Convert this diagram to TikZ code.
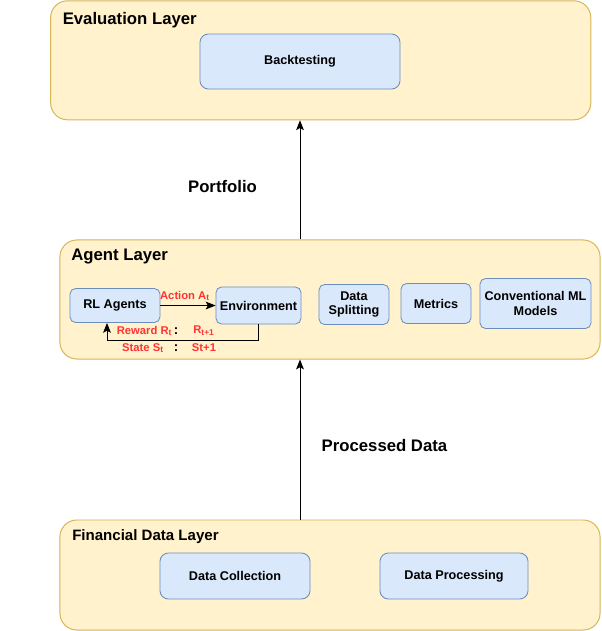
\documentclass[tikz,border=0pt]{standalone}
\usepackage{fontspec}
\setmainfont{Liberation Sans}
\usetikzlibrary{arrows.meta,positioning}
\definecolor{LayerFill}{HTML}{FFF2CC}
\definecolor{LayerDraw}{HTML}{D6B656}
\definecolor{BoxFill}{HTML}{DAE8FC}
\definecolor{BoxDraw}{HTML}{6C8EBF}
\definecolor{LabelRed}{HTML}{FF3333}

\begin{document}
\begin{tikzpicture}[x=0.025cm, y=-0.025cm, every node/.style={font=\bfseries},
    layer/.style={draw=LayerDraw, fill=LayerFill, line width=0.7pt, rounded corners=12pt, minimum width=13.5cm, inner sep=0},
    box/.style={draw=BoxDraw, fill=BoxFill, line width=0.6pt, rounded corners=4pt, align=center, inner sep=0, font=\bfseries\fontsize{9}{10.5}\selectfont},
    title/.style={anchor=west, inner sep=0, font=\bfseries\fontsize{11.9}{14}\selectfont},
    flow/.style={line width=0.7pt, -{Stealth[length=7pt, width=5.5pt, inset=1.5pt]}},
    redlbl/.style={text=LabelRed, inner sep=0, font=\bfseries\fontsize{8}{9.5}\selectfont}]
        \useasboundingbox (0,0) rectangle (601,631);

        % layers
        \node[layer, minimum height=2.975cm] (evalLayer) at (320.7,60.3) {};
        \node[layer, minimum height=2.975cm] (agentLayer) at (330,299.5) {};
        \node[layer, minimum height=2.75cm] (dataLayer) at (330,575) {};

        \node[title] (evalTitle) at (62.5,20) {Evaluation Layer};
        \node[title] (agentTitle) at (71,257) {Agent Layer};
        \node[title, font=\bfseries\fontsize{10.7}{13}\selectfont] (dataTitle) at (72,537) {Financial Data Layer};

        % boxes
        \node[box, minimum width=5cm, minimum height=1.375cm, rounded corners=6pt] (backtest) at (300,61.5) {Backtesting};
        \node[box, minimum width=2.25cm, minimum height=0.85cm] (rlAgents) at (115,305.5) {RL Agents};
        \node[box, minimum width=2.125cm, minimum height=0.925cm] (env) at (258.5,305.5) {Environment};
        \node[box, minimum width=1.75cm, minimum height=1cm] (split) at (354,304.5) {Data\\Splitting};
        \node[box, minimum width=1.75cm, minimum height=1cm] (metrics) at (436,303.5) {Metrics};
        \node[box, minimum width=2.775cm, minimum height=1.25cm] (convML) at (535.5,303.5) {Conventional ML\\Models};
        \node[box, minimum width=3.75cm, minimum height=1.15cm, rounded corners=6pt] (collect) at (235,576) {Data Collection};
        \node[box, minimum width=3.7cm, minimum height=1.15cm, rounded corners=6pt] (process) at (454,576) {Data Processing};

        % flows between layers
        \draw[flow] (agentLayer.north -| backtest.south) -- (evalLayer.south -| backtest.south);
        \draw[flow] (dataLayer.north -| backtest.south) -- (agentLayer.south -| backtest.south);
        \node[font=\bfseries\fontsize{11.9}{14}\selectfont] (portfolioLbl) at (222.5,187) {Portfolio};
        \node[font=\bfseries\fontsize{11.9}{14}\selectfont] (processedLbl) at (384.5,446) {Processed Data};

        % agent loop
        \draw[flow] (rlAgents) -- (env);
        \draw[flow] (env.south) -- ++(0,16) -| ([xshift=-0.2cm]rlAgents.south);
        \node[redlbl] (actionLbl) at (185,296) {Action A\textsubscript{t}};
        \node[redlbl] (rewardLbl) at (144.5,331) {Reward R\textsubscript{t}};
        \node[redlbl] (stateLbl) at (143,348) {State S\textsubscript{t}};
        \node[redlbl, text=black, font=\bfseries\fontsize{9.5}{11}\selectfont] (sepA) at (176,331) {:};
        \node[redlbl, text=black, font=\bfseries\fontsize{9.5}{11}\selectfont] (sepB) at (176,348) {:};
        \node[redlbl] (nextReward) at (204,331) {R\textsubscript{t+1}};
        \node[redlbl] (nextState) at (204,348) {St+1};
    \end{tikzpicture}
\end{document}
